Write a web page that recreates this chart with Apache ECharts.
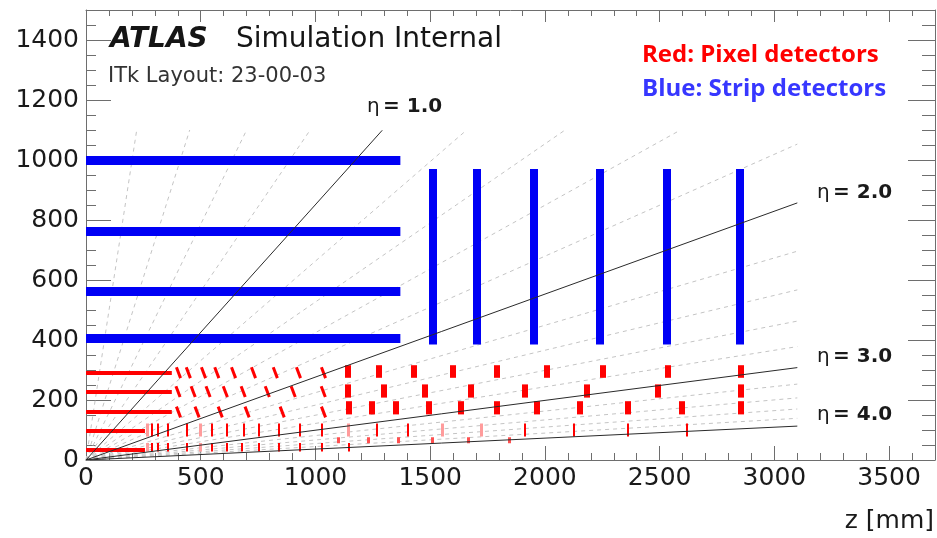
<!DOCTYPE html>
<html>
<head>
<meta charset="utf-8">
<script src="https://cdn.jsdelivr.net/npm/echarts/dist/echarts.min.js"></script>
<style>
html, body { margin: 0; padding: 0; background: #fff; }
#main { width: 937px; height: 538px; }
</style>
</head>
<body>
<div id="main"></div>
<script>
// strip detectors (blue), z / r in mm
var stripBarrelR = [405, 562, 762, 1000];
var stripBarrelZ = [0, 1370];
var stripDiskZ = [1512, 1702, 1952, 2237, 2532, 2850];
var stripDiskR = [385, 970];

// pixel barrel flat section
var pixBarrelR = [34, 99, 160, 228, 291];
var pixBarrelZmax = [257, 257, 374, 374, 374];

// pixel inclined modules (z centres) for the outer three layers
var inclL2Z = [403, 484, 585, 702, 855, 1035];
var inclL3Z = [401, 467, 532, 607, 685, 790, 903, 1034];
var inclL4Z = [403, 446, 512, 570, 643, 730, 825, 926, 1035];

// outer pixel end-cap rings
var ringL2Z = [1144, 1247, 1348, 1494, 1635, 1792, 1963, 2152, 2362, 2595, 2853];
var ringL2R = [152, 196];
var ringL3Z = [1140, 1297, 1475, 1675, 1911, 2182, 2493, 2853];
var ringL3R = [208, 252];
var ringL4Z = [1140, 1278, 1430, 1597, 1789, 2007, 2254, 2534, 2853];
var ringL4R = [274, 316];

// inner pixel rings
var ringL1Z = [287, 311, 355, 439, 548, 614, 686, 752, 839, 931, 1028, 1268, 1402, 1911, 2126, 2359, 2618];
var ringL1LightZ = [265, 497, 1144, 1552, 1723];
var ringL1R = [78, 122];
var ringL0Z = [287, 311, 355, 439, 548, 614, 679, 752, 839, 931, 1028, 1144];
var ringL0LightZ = [265, 497];
var ringL0R = [28, 57];
var ringDotZ = [1100, 1231, 1361, 1510, 1667, 1846];
var ringDotR = [56, 76];

// eta lines: end points [z, r]
var etaDashEnd = [[221, 1100], [452, 1100], [700, 1100], [977, 1100], [1659, 1100], [2088, 1100],
    [2591, 1100], [3100, 1053], [3100, 696], [3100, 567], [3100, 463], [3100, 378],
    [3100, 253], [3100, 207], [3100, 170], [3100, 139]];
var etaSolidEnd = [[1291, 1099], [3100, 857], [3100, 308], [3100, 113]];
var etaLabels = ['1.0', '2.0', '3.0', '4.0'];

var chart = echarts.init(document.getElementById('main'));

function hSegs(rs, z0s, z1s) {
    return rs.map(function (r, i) {
        return { coords: [[z0s[i], r], [z1s[i], r]] };
    });
}
function vSegs(zs, rr) {
    return zs.map(function (z) {
        return { coords: [[z, rr[0]], [z, rr[1]]] };
    });
}
function inclSegs(zs, r) {
    // tilted module: top-left to bottom-right
    return zs.map(function (z) {
        return { coords: [[z - 9, r + 18], [z + 9, r - 18]] };
    });
}
function rays(ends) {
    return ends.map(function (p) {
        return { coords: [[0, 0], p] };
    });
}
function segSeries(data, color, width, extra) {
    var s = {
        type: 'lines',
        coordinateSystem: 'cartesian2d',
        xAxisIndex: 0,
        yAxisIndex: 0,
        polyline: false,
        silent: true,
        animation: false,
        lineStyle: { color: color, width: width, opacity: 1, cap: 'butt' },
        data: data
    };
    if (extra) {
        for (var k in extra) s.lineStyle[k] = extra[k];
    }
    return s;
}

var red = '#ff0000', pink = '#ff9c9c', blue = '#0000f5';
var zeros = pixBarrelR.map(function () { return 0; });

var axisColor = '#6e6e6e';
var labelFont = { fontSize: 25, fontFamily: 'DejaVu Sans', color: '#1a1a1a' };

function plain(v) { return String(v); }

function xAx(pos, interval, tickLen, labels, line) {
    return {
        type: 'value', position: pos, min: 0, max: 3700, interval: interval,
        axisLine: { show: line, onZero: false, lineStyle: { color: axisColor } },
        axisTick: { show: true, inside: true, length: tickLen, lineStyle: { color: axisColor } },
        axisLabel: labels ? Object.assign({ show: true, margin: 6, showMaxLabel: false, formatter: plain }, labelFont) : { show: false },
        splitLine: { show: false }
    };
}
function yAx(pos, interval, tickLen, labels, line) {
    return {
        type: 'value', position: pos, min: 0, max: 1500, interval: interval,
        axisLine: { show: line, onZero: false, lineStyle: { color: axisColor } },
        axisTick: { show: true, inside: true, length: tickLen, lineStyle: { color: axisColor } },
        axisLabel: labels ? Object.assign({ show: true, margin: 7, showMaxLabel: false, formatter: plain }, labelFont) : { show: false },
        splitLine: { show: false }
    };
}

function etaStyle(v) {
    return {
        text: '{e|η} {b|= ' + v + '}',
        rich: {
            e: { fontSize: 20, fontFamily: 'DejaVu Sans', fill: '#1a1a1a', color: '#1a1a1a' },
            b: { fontSize: 20, fontWeight: 'bold', fontFamily: 'DejaVu Sans', fill: '#1a1a1a', color: '#1a1a1a' }
        }
    };
}

var option = {
    backgroundColor: '#fff',
    animation: false,
    grid: { left: 86, right: 2, top: 10, bottom: 78 },
    xAxis: [
        xAx('bottom', 500, 14, true, true),
        xAx('bottom', 100, 7, false, false),
        xAx('top', 500, 12, false, true),
        xAx('top', 100, 6, false, false)
    ],
    yAxis: [
        yAx('left', 200, 25, true, true),
        yAx('left', 50, 10, false, false),
        yAx('right', 200, 27, false, true),
        yAx('right', 50, 13, false, false)
    ],
    series: [
        // light dashed eta lines
        segSeries(rays(etaDashEnd), '#c4c4c4', 1, { type: [4, 4] }),
        // strips
        segSeries(hSegs(stripBarrelR, stripBarrelR.map(function () { return stripBarrelZ[0]; }),
            stripBarrelR.map(function () { return stripBarrelZ[1]; })), blue, 9),
        segSeries(vSegs(stripDiskZ, stripDiskR), blue, 8),
        // pixels
        segSeries(hSegs(pixBarrelR, zeros, pixBarrelZmax), red, 4),
        segSeries(inclSegs(inclL2Z, pixBarrelR[2]).concat(inclSegs(inclL3Z, pixBarrelR[3]), inclSegs(inclL4Z, pixBarrelR[4])), red, 3),
        segSeries(vSegs(ringL2Z, ringL2R).concat(vSegs(ringL3Z, ringL3R), vSegs(ringL4Z, ringL4R)), red, 6),
        segSeries(vSegs(ringL1Z, ringL1R).concat(vSegs(ringL0Z, ringL0R)), red, 2),
        segSeries(vSegs(ringL1LightZ, ringL1R).concat(vSegs(ringL0LightZ, ringL0R)), pink, 3),
        segSeries(vSegs(ringDotZ, ringDotR), '#ff5050', 3),
        // solid eta lines
        segSeries(rays(etaSolidEnd), '#2a2a2a', 1)
    ],
    graphic: [
        { type: 'text', left: 110, top: 26, style: { text: 'ATLAS', fontSize: 28, fontWeight: 'bold', fontStyle: 'italic', fontFamily: 'DejaVu Sans', fill: '#151515' } },
        { type: 'text', left: 236, top: 26, style: { text: 'Simulation Internal', fontSize: 28, fontFamily: 'DejaVu Sans', fill: '#151515' } },
        { type: 'text', left: 108, top: 66, style: { text: 'ITk Layout: 23-00-03', fontSize: 21, fontFamily: 'DejaVu Sans', fill: '#333' } },
        { type: 'text', left: 642, top: 43, style: { text: 'Red: Pixel detectors', fontSize: 24, fontWeight: 'bold', fontFamily: 'Open Sans', fill: '#ff0000' } },
        { type: 'text', left: 642, top: 77, style: { text: 'Blue: Strip detectors', fontSize: 24, fontWeight: 'bold', fontFamily: 'Open Sans', fill: '#3737ff' } },
        { type: 'text', left: 367, top: 97, style: etaStyle(etaLabels[0]) },
        { type: 'text', left: 817, top: 183, style: etaStyle(etaLabels[1]) },
        { type: 'text', left: 817, top: 347, style: etaStyle(etaLabels[2]) },
        { type: 'text', left: 817, top: 405, style: etaStyle(etaLabels[3]) },
        { type: 'text', right: 3, top: 509, style: { text: 'z [mm]', fontSize: 25, fontFamily: 'DejaVu Sans', fill: '#1a1a1a' } }
    ]
};

chart.setOption(option);
</script>
</body>
</html>
